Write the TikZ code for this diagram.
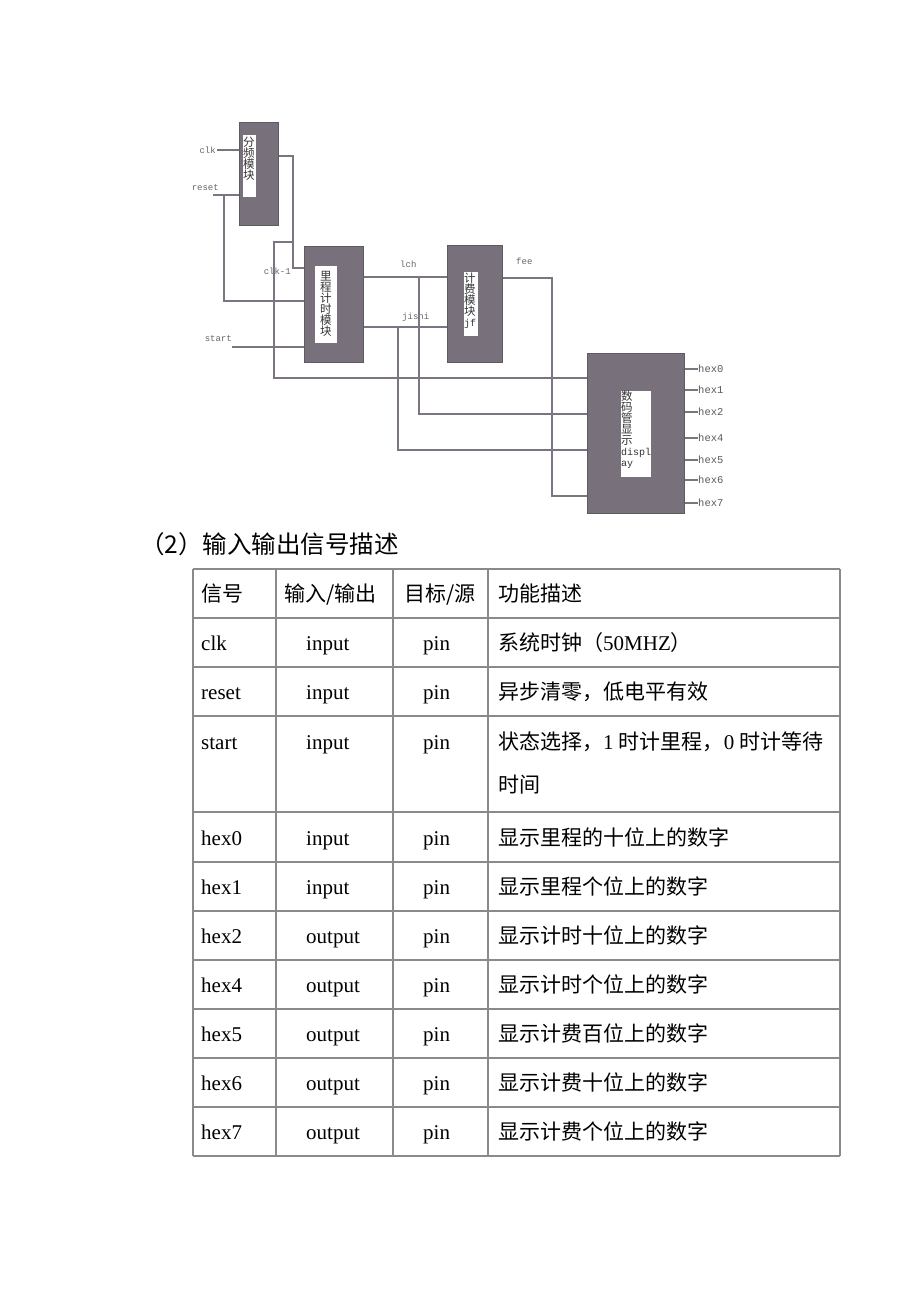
\documentclass[tikz,border=0pt]{standalone}
\usepackage{fontspec}
\setmainfont{Liberation Serif}
\newfontfamily\cjk{Noto Sans CJK SC}
\newfontfamily\mymono{Liberation Mono}
\newcommand\cn[1]{{\cjk #1}}
\definecolor{blkfill}{HTML}{78707A}
\definecolor{wirec}{HTML}{7C7480}
\definecolor{lblc}{HTML}{666666}
\definecolor{tabline}{HTML}{8A8A8A}
\tikzset{
  blk/.style={draw=blkfill!80!black, line width=0.8pt, fill=blkfill, inner sep=0pt, anchor=north west},
  innerbox/.style={fill=white, draw=none, inner sep=0pt, anchor=north west},
  vtext/.style={inner sep=0pt, anchor=north west, align=left, text=black!80, font=\cjk\fontsize{11.5}{11}\selectfont},
  wire/.style={draw=wirec, line width=1.5pt},
  lbl/.style={inner sep=0pt, text=lblc, font=\mymono\fontsize{9}{9}\selectfont},
  hexlbl/.style={inner sep=0pt, anchor=west, text=black!65, font=\mymono\fontsize{10.5}{10}\selectfont},
  tline/.style={draw=tabline, line width=1.1pt},
  cell/.style={inner sep=0pt, anchor=base west, font=\fontsize{21}{21}\selectfont}
}
\begin{document}
\begin{tikzpicture}[x=1pt,y=-1pt]
\useasboundingbox (0,0) rectangle (920,1302);
% ---------- blocks ----------
\node[blk, minimum width=39pt, minimum height=103pt] (b1) at (239,122) {};
\node[innerbox, minimum width=13pt, minimum height=62pt] (i1) at (243,135) {};
\node[vtext] (t1) at (243,137) {分\\频\\模\\块};

\node[blk, minimum width=59pt, minimum height=116pt] (b2) at (304,246) {};
\node[innerbox, minimum width=22pt, minimum height=77pt] (i2) at (315,266) {};
\node[vtext] (t2) at (320,271) {里\\程\\计\\时\\模\\块};

\node[blk, minimum width=55pt, minimum height=117pt] (b3) at (447,245) {};
\node[innerbox, minimum width=14pt, minimum height=64pt] (i3) at (464,272) {};
\node[vtext] (t3) at (464,273) {计\\费\\模\\块\\{\mymono\fontsize{10}{10}\selectfont jf}};

\node[blk, minimum width=97pt, minimum height=160pt] (b4) at (587,353) {};
\node[innerbox, minimum width=30pt, minimum height=86pt] (i4) at (621,391) {};
\node[vtext] (t4) at (621,391) {数\\码\\管\\显\\示\\{\mymono\fontsize{10}{11}\selectfont displ}\\{\mymono\fontsize{10}{11}\selectfont ay}};

% ---------- labels ----------
\node[lbl, anchor=east] (clkL) at (216,150) {clk};
\node[lbl, anchor=east] (resetL) at (219,188) {reset};
\node[lbl, anchor=east] (clk1L) at (291,271) {clk-1};
\node[lbl, anchor=east] (startL) at (232,339) {start};
\node[lbl, anchor=west] (lchL) at (400,264) {lch};
\node[lbl, anchor=west] (jishiL) at (402,317) {jishi};
\node[lbl, anchor=west] (feeL) at (516,261) {fee};

% ---------- wire coordinates ----------
\coordinate (clkA) at (217,150);
\coordinate (rstA) at (213,195);
\coordinate (rstB) at (224,195);
\coordinate (rstC) at (224,301);
\coordinate (c1A) at (293,156);
\coordinate (c1B) at (293,268);
\coordinate (c1J) at (293,242);
\coordinate (c1C) at (274,242);
\coordinate (c1D) at (274,378);
\coordinate (stA) at (232,347);
\coordinate (lchJ) at (419,277);
\coordinate (lchD) at (419,414);
\coordinate (jsJ) at (398,327);
\coordinate (jsD) at (398,450);
\coordinate (feeA) at (552,278);
\coordinate (feeD) at (552,496);

% clk
\draw[wire] (clkA) -- (b1.west |- clkA);
% reset
\draw[wire] (rstA) -- (b1.west |- rstA);
\draw[wire] (rstB) -- (rstC) -- (b2.west |- rstC);
% clk-1
\draw[wire] (b1.east |- c1A) -- (c1A) -- (c1B) -- (b2.west |- c1B);
\draw[wire] (c1J) -- (c1C) -- (c1D) -- (b4.west |- c1D);
% start
\draw[wire] (stA) -- (b2.west |- stA);
% lch
\draw[wire] (b2.east |- lchJ) -- (b3.west |- lchJ);
\draw[wire] (lchJ) -- (lchD) -- (b4.west |- lchD);
% jishi
\draw[wire] (b2.east |- jsJ) -- (b3.west |- jsJ);
\draw[wire] (jsJ) -- (jsD) -- (b4.west |- jsD);
% fee
\draw[wire] (b3.east |- feeA) -- (feeA) -- (feeD) -- (b4.west |- feeD);

% hex outputs
\foreach \n/\yy in {hex0/369, hex1/390, hex2/412, hex4/438, hex5/460, hex6/480, hex7/503}{
  \node[hexlbl] (\n) at (698,\yy) {\n};
  \draw[wire, line width=1.2pt] (b4.east |- \n.west) -- (\n.west);
}

% ---------- heading ----------
\node[inner sep=0pt, anchor=base west, font=\cjk\fontsize{24.5}{24.5}\selectfont] (head) at (140,553) {（2）输入输出信号描述};

% ---------- table ----------
\foreach \yy in {569,618,667,716,812,862,911,960,1009,1058,1107,1156}{
  \draw[tline] (193,\yy) -- (840,\yy);
}
\foreach \xx in {193,276,393,488,840}{
  \draw[tline] (\xx,569) -- (\xx,1156);
}
% header
\node[cell] (h1) at (201,601) {\cn{信号}};
\node[cell] (h2) at (284,601) {\cn{输入/输出}};
\node[cell] (h3) at (404,601) {\cn{目标/源}};
\node[cell] (h4) at (498,601) {\cn{功能描述}};
% rows
\foreach \sig/\dir/\yy/\desc in {
  clk/input/650/{\cn{系统时钟（}50MHZ\cn{）}},
  reset/input/699/{\cn{异步清零，低电平有效}},
  start/input/749/{\cn{状态选择，}1 \cn{时计里程，}0 \cn{时计等待}},
  hex0/input/845/{\cn{显示里程的十位上的数字}},
  hex1/input/894/{\cn{显示里程个位上的数字}},
  hex2/output/943/{\cn{显示计时十位上的数字}},
  hex4/output/992/{\cn{显示计时个位上的数字}},
  hex5/output/1041/{\cn{显示计费百位上的数字}},
  hex6/output/1090/{\cn{显示计费十位上的数字}},
  hex7/output/1139/{\cn{显示计费个位上的数字}}}{
  \node[cell] (s-\sig) at (201,\yy) {\sig};
  \node[cell] (d-\sig) at (306,\yy) {\dir};
  \node[cell] (p-\sig) at (423,\yy) {pin};
  \node[cell] (f-\sig) at (498,\yy) {\desc};
}
\node[cell] (f-start2) at (498,792) {\cn{时间}};
\end{tikzpicture}
\end{document}
